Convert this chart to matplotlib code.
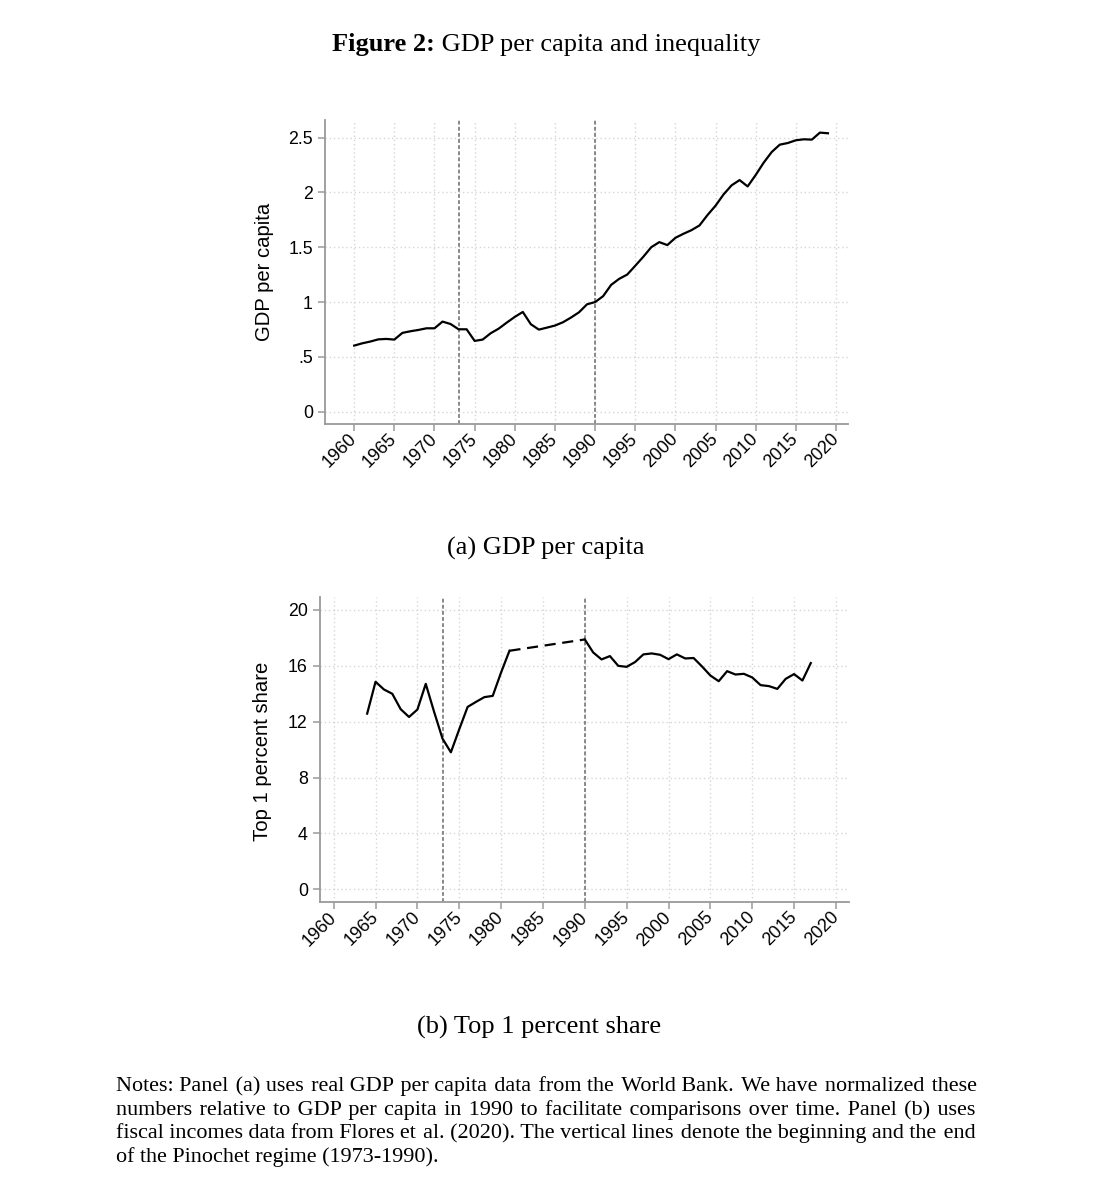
import matplotlib
matplotlib.use("Agg")
import matplotlib.pyplot as plt
import numpy as np

# ---------------- data ----------------
gdp_years = list(range(1960, 2020))
gdp_values = [0.603, 0.624, 0.640, 0.660, 0.664, 0.658, 0.719, 0.734, 0.746, 0.761,
              0.761, 0.822, 0.800, 0.752, 0.752, 0.646, 0.658, 0.716, 0.758, 0.813,
              0.865, 0.910, 0.798, 0.749, 0.767, 0.786, 0.816, 0.859, 0.907, 0.980,
              1.000, 1.054, 1.157, 1.212, 1.251, 1.331, 1.413, 1.501, 1.547, 1.520,
              1.586, 1.623, 1.656, 1.699, 1.794, 1.879, 1.982, 2.065, 2.113, 2.055,
              2.159, 2.272, 2.369, 2.436, 2.451, 2.476, 2.485, 2.482, 2.546, 2.540]

top1_years_early = list(range(1964, 1982))
top1_values_early = [12.58, 14.86, 14.31, 14.00, 12.90, 12.34, 12.87, 14.71, 12.70, 10.79,
                     9.81, 11.46, 13.06, 13.42, 13.76, 13.85, 15.53, 17.08]
top1_years_late = list(range(1990, 2018))
top1_values_late = [17.89, 16.96, 16.46, 16.70, 16.00, 15.93, 16.27, 16.82, 16.89, 16.79,
                    16.48, 16.82, 16.53, 16.56, 15.96, 15.31, 14.90, 15.62, 15.38, 15.43,
                    15.17, 14.62, 14.55, 14.35, 15.07, 15.41, 14.95, 16.20]

regime_years = [1973, 1990]
x_ticks = list(range(1960, 2021, 5))
gdp_yticks = [0, 0.5, 1, 1.5, 2, 2.5]
gdp_yticklabels = ["0", ".5", "1", "1.5", "2", "2.5"]
top1_yticks = [0, 4, 8, 12, 16, 20]
top1_yticklabels = ["0", "4", "8", "12", "16", "20"]

title_bold = "Figure 2:"
title_rest = " GDP per capita and inequality"
caption_a = "(a) GDP per capita"
caption_b = "(b) Top 1 percent share"
ylabel_a = "GDP per capita"
ylabel_b = "Top 1 percent share"
notes_lines = [
    "Notes: Panel (a) uses real GDP per capita data from the World Bank. We have normalized these",
    "numbers relative to GDP per capita in 1990 to facilitate comparisons over time. Panel (b) uses",
    "fiscal incomes data from Flores et al. (2020). The vertical lines denote the beginning and the end",
    "of the Pinochet regime (1973-1990).",
]

# ---------------- figure ----------------
W, H = 1108, 1200
fig = plt.figure(figsize=(W / 100, H / 100), dpi=100)
fig.patch.set_facecolor("white")

SANS = "Liberation Sans"
SERIF = ["Liberation Serif", "DejaVu Serif"]
SPINE = "#9a9a9a"
GRID = "#d6d6d6"


def px_box(l, t, r, b):
    return [l / W, 1 - b / H, (r - l) / W, (b - t) / H]


def style_axes(ax, yticks, yticklabels):
    for s in ["top", "right"]:
        ax.spines[s].set_visible(False)
    for s in ["left", "bottom"]:
        ax.spines[s].set_color(SPINE)
        ax.spines[s].set_linewidth(1.3)
    ax.set_xticks(x_ticks)
    ax.set_xticklabels([str(t) for t in x_ticks], rotation=45, ha="right",
                       va="center", rotation_mode="anchor", fontfamily=SANS, fontsize=13)
    ax.set_yticks(yticks)
    ax.set_yticklabels(yticklabels, fontfamily=SANS, fontsize=12.8)
    ax.tick_params(axis="both", direction="out", length=5, width=1.1, color=SPINE,
                   labelcolor="black")
    ax.tick_params(axis="x", pad=4)
    ax.tick_params(axis="y", pad=4)
    ax.grid(True, color=GRID, linestyle=(0, (1, 2)), linewidth=1.0)
    ax.set_axisbelow(True)
    for yr in regime_years:
        ax.axvline(yr, color="#6a6a6a", linestyle=(0, (2.5, 1.5)), linewidth=1.1, zorder=2)


# Panel (a)
ax1 = fig.add_axes(px_box(325.3, 120, 848, 424))
ax1.plot(gdp_years, gdp_values, color="black", linewidth=1.6, zorder=3)
ax1.set_xlim(1956.4, 2021.5)
ax1.set_ylim(-0.112, 2.661)
style_axes(ax1, gdp_yticks, gdp_yticklabels)

# Panel (b)
ax2 = fig.add_axes(px_box(320.3, 597, 849.3, 902.3))
ax2.plot(top1_years_early, top1_values_early, color="black", linewidth=1.6, zorder=3)
ax2.plot(top1_years_late, top1_values_late, color="black", linewidth=1.6, zorder=3)
ax2.plot([top1_years_early[-1], top1_years_late[0]],
         [top1_values_early[-1], top1_values_late[0]],
         color="black", linewidth=1.6, linestyle=(0, (5, 3)), zorder=3)
ax2.set_xlim(1958.4, 2021.6)
ax2.set_ylim(-0.93, 20.93)
style_axes(ax2, top1_yticks, top1_yticklabels)

# y labels
fig.text(265 / W, 1 - 272 / H, ylabel_a, rotation=90, ha="center", va="center",
         fontfamily=SANS, fontsize=14.6)
fig.text(262 / W, 1 - 751 / H, ylabel_b, rotation=90, ha="center", va="center",
         fontfamily=SANS, fontsize=14.6)

# captions
fig.text(546 / W, 1 - 548 / H, caption_a, ha="center", va="center",
         fontfamily=SERIF, fontsize=19)
fig.text(539 / W, 1 - 1027 / H, caption_b, ha="center", va="center",
         fontfamily=SERIF, fontsize=19)

# title with bold part
renderer = fig.canvas.get_renderer()
t_bold = fig.text(0, 1 - 45 / H, title_bold, ha="left", va="center",
                  fontfamily=SERIF, fontsize=19, fontweight="bold")
t_rest = fig.text(0, 1 - 45 / H, title_rest, ha="left", va="center",
                  fontfamily=SERIF, fontsize=19)
wb = t_bold.get_window_extent(renderer).width
wr = t_rest.get_window_extent(renderer).width
x0 = 546 - (wb + wr) / 2
t_bold.set_x(x0 / W)
t_rest.set_x((x0 + wb) / W)


def text_width(s, fs):
    t = fig.text(0, 0, s, fontfamily=SERIF, fontsize=fs)
    w = t.get_window_extent(renderer).width
    t.remove()
    return w


# notes (justified by padding spaces with hair spaces)
left_px, right_px = 116, 976
line_baselines = [1091, 1114.5, 1138, 1162]
note_fs = 15.9
HAIR = "\u200a"
hair_w = text_width("a" + HAIR * 10 + "b", note_fs) - text_width("ab", note_fs)
hair_w /= 10.0
for i, line in enumerate(notes_lines):
    y = 1 - line_baselines[i] / H
    words = line.split(" ")
    s = line
    if i < len(notes_lines) - 1 and hair_w > 0.2:
        extra = (right_px - left_px) - text_width(line, note_fs)
        n = max(0, int(round(extra / hair_w)))
        gaps = len(words) - 1
        base, rem = divmod(n, gaps)
        parts = [words[0]]
        for k in range(gaps):
            cnt = base + (1 if (k * rem) // gaps != ((k + 1) * rem) // gaps else 0)
            parts.append(" " + HAIR * cnt + words[k + 1])
        s = "".join(parts)
    fig.text(left_px / W, y, s, ha="left", va="baseline",
             fontfamily=SERIF, fontsize=note_fs)

fig.savefig("out.png", dpi=100, facecolor="white")
